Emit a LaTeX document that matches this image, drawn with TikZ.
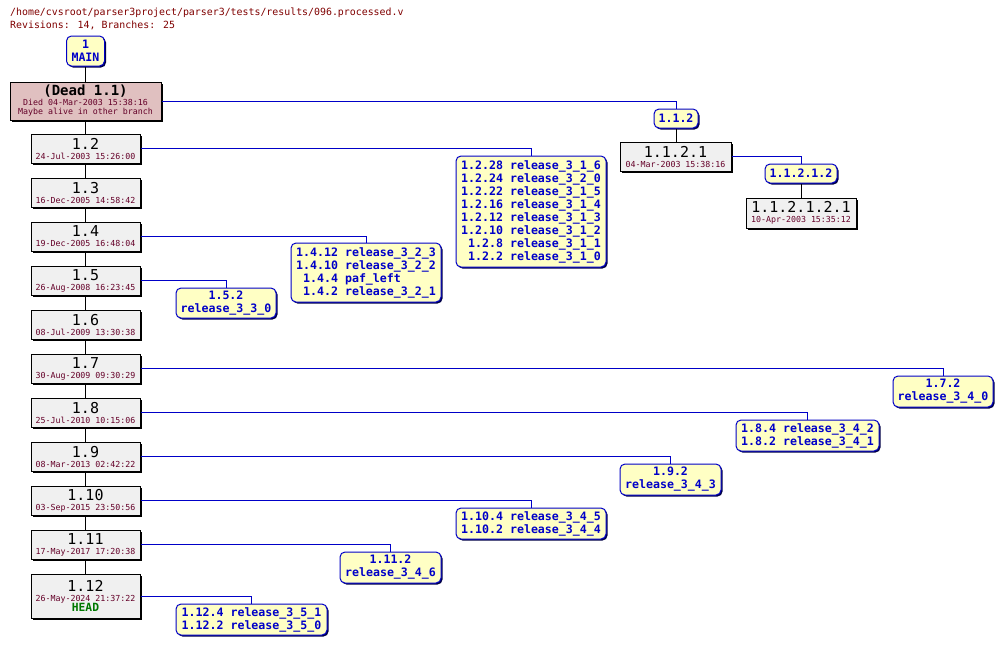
\documentclass[tikz,border=0pt]{standalone}
\usepackage{fontspec}
\setmainfont{DejaVu Sans Mono}
\usetikzlibrary{shadows}
\definecolor{hdr}{RGB}{128,0,0}
\definecolor{datecol}{RGB}{100,0,40}
\definecolor{brblue}{RGB}{0,0,200}
\definecolor{brfill}{RGB}{255,255,196}
\definecolor{revfill}{RGB}{240,240,240}
\definecolor{deadfill}{RGB}{224,192,192}
\definecolor{headgreen}{RGB}{0,120,0}
\definecolor{shadowblue}{RGB}{0,0,70}
\newcommand{\revnum}[1]{{\fontsize{15}{15}\selectfont #1}}
\newcommand{\revdate}[1]{{\fontsize{8.3}{9}\selectfont\color{datecol}#1}}
\begin{document}
\begin{tikzpicture}[x=1pt,y=-1pt,
  revbox/.style={draw=black, fill=revfill, line width=1pt, inner sep=0pt,
    minimum width=109pt, minimum height=29pt, align=center,
    font=\fontsize{8.3}{10}\selectfont,
    drop shadow={shadow xshift=1.5pt, shadow yshift=-1.5pt, opacity=1, fill=black}},
  brbox/.style={draw=brblue, fill=brfill, line width=1pt, inner sep=0pt,
    rounded corners=5pt, text=brblue, align=center,
    font=\fontsize{11.6}{13}\selectfont\bfseries,
    drop shadow={shadow xshift=1.5pt, shadow yshift=-1.5pt, opacity=1, fill=shadowblue}},
  brlist/.style={brbox, align=left},
  trunk/.style={draw=black, line width=1pt},
  brline/.style={draw=brblue, line width=1pt}
]
\fill[white] (0,0) rectangle (1003,645);
\useasboundingbox (0,0) rectangle (1003,645);

\node[anchor=base west, text=hdr, font=\fontsize{9.9}{10}\selectfont, inner sep=0pt] (path) at (10,16) {/home/cvsroot/parser3project/parser3/tests/results/096.processed.v};
\node[anchor=base west, text=hdr, font=\fontsize{9.9}{10}\selectfont, inner sep=0pt] (stats) at (10,28) {Revisions: 14, Branches: 25};

% main branch
\node[brbox, minimum width=38pt, minimum height=30pt] (main) at (85.5,51) {1\\MAIN};
\node[draw=black, fill=deadfill, line width=1pt, inner sep=0pt, minimum width=151pt, minimum height=38pt, align=center,
  font=\fontsize{8.3}{9.5}\selectfont,
  drop shadow={shadow xshift=1.5pt, shadow yshift=-1.5pt, opacity=1, fill=black}] (dead) at (85.5,101)
  {{\fontsize{14}{13}\selectfont\bfseries (Dead 1.1)}\\\textcolor{datecol}{Died 04-Mar-2003 15:38:16}\\\textcolor{datecol}{Maybe alive in other branch}};

\node[revbox] (r12) at (85.5,148.5) {\revnum{1.2}\\\revdate{24-Jul-2003 15:26:00}};
\node[revbox] (r13) at (85.5,192.5) {\revnum{1.3}\\\revdate{16-Dec-2005 14:58:42}};
\node[revbox] (r14) at (85.5,236.5) {\revnum{1.4}\\\revdate{19-Dec-2005 16:48:04}};
\node[revbox] (r15) at (85.5,280.5) {\revnum{1.5}\\\revdate{26-Aug-2008 16:23:45}};
\node[revbox] (r16) at (85.5,324.5) {\revnum{1.6}\\\revdate{08-Jul-2009 13:30:38}};
\node[revbox] (r17) at (85.5,368.5) {\revnum{1.7}\\\revdate{30-Aug-2009 09:30:29}};
\node[revbox] (r18) at (85.5,412.5) {\revnum{1.8}\\\revdate{25-Jul-2010 10:15:06}};
\node[revbox] (r19) at (85.5,456.5) {\revnum{1.9}\\\revdate{08-Mar-2013 02:42:22}};
\node[revbox] (r110) at (85.5,500.5) {\revnum{1.10}\\\revdate{03-Sep-2015 23:50:56}};
\node[revbox] (r111) at (85.5,544.5) {\revnum{1.11}\\\revdate{17-May-2017 17:20:38}};
\node[revbox, minimum height=44pt] (r112) at (85.5,596) {\revnum{1.12}\\\revdate{26-May-2024 21:37:22}\\{\fontsize{11.3}{11}\selectfont\bfseries\color{headgreen}HEAD}};

% side branch 1.1.2
\node[brbox, minimum width=44pt, minimum height=19pt] (b112) at (676,118.5) {1.1.2};
\node[revbox, minimum width=111pt] (r1121) at (675.5,156.5) {\revnum{1.1.2.1}\\\revdate{04-Mar-2003 15:38:16}};
\node[brbox, minimum width=72pt, minimum height=19pt] (b11212) at (801,173.5) {1.1.2.1.2};
\node[revbox, minimum width=110pt, minimum height=30pt] (r112121) at (801,213) {\revnum{1.1.2.1.2.1}\\\revdate{10-Apr-2003 15:35:12}};

% branch tag boxes
\node[brlist, minimum width=150pt, minimum height=111pt] (t12) at (531,211.5)
  {1.2.28 release\_3\_1\_6\\1.2.24 release\_3\_2\_0\\1.2.22 release\_3\_1\_5\\1.2.16 release\_3\_1\_4\\1.2.12 release\_3\_1\_3\\1.2.10 release\_3\_1\_2\\\phantom{0}1.2.8 release\_3\_1\_1\\\phantom{0}1.2.2 release\_3\_1\_0};
\node[brlist, minimum width=150pt, minimum height=59pt] (t14) at (366,272.5)
  {1.4.12 release\_3\_2\_3\\1.4.10 release\_3\_2\_2\\\phantom{0}1.4.4 paf\_left\\\phantom{0}1.4.2 release\_3\_2\_1};
\node[brbox, minimum width=100pt, minimum height=30pt] (t15) at (226,303) {1.5.2\\release\_3\_3\_0};
\node[brbox, minimum width=100pt, minimum height=31pt] (t17) at (943,391.5) {1.7.2\\release\_3\_4\_0};
\node[brlist, minimum width=143pt, minimum height=31pt] (t18) at (807.5,435.5) {1.8.4 release\_3\_4\_2\\1.8.2 release\_3\_4\_1};
\node[brbox, minimum width=101pt, minimum height=31pt] (t19) at (670.5,479.5) {1.9.2\\release\_3\_4\_3};
\node[brlist, minimum width=150pt, minimum height=31pt] (t110) at (531,523.5) {1.10.4 release\_3\_4\_5\\1.10.2 release\_3\_4\_4};
\node[brbox, minimum width=101pt, minimum height=31pt] (t111) at (390.5,567.5) {1.11.2\\release\_3\_4\_6};
\node[brlist, minimum width=151pt, minimum height=31pt] (t112) at (251.5,619.5) {1.12.4 release\_3\_5\_1\\1.12.2 release\_3\_5\_0};

% trunk
\draw[trunk] (main) -- (dead);
\draw[trunk] (dead) -- (r12);
\draw[trunk] (r12) -- (r13);
\draw[trunk] (r13) -- (r14);
\draw[trunk] (r14) -- (r15);
\draw[trunk] (r15) -- (r16);
\draw[trunk] (r16) -- (r17);
\draw[trunk] (r17) -- (r18);
\draw[trunk] (r18) -- (r19);
\draw[trunk] (r19) -- (r110);
\draw[trunk] (r110) -- (r111);
\draw[trunk] (r111) -- (r112);
\draw[trunk] (b112.south) -- (b112.south |- r1121.north);
\draw[trunk] (b11212.south) -- (b11212.south |- r112121.north);

% branch connectors
\draw[brline] (dead.east) -| (b112.north);
\draw[brline] (r1121.east) -| (b11212.north);
\draw[brline] (r12.east) -| (t12.north);
\draw[brline] (r14.east) -| (t14.north);
\draw[brline] (r15.east) -| (t15.north);
\draw[brline] (r17.east) -| (t17.north);
\draw[brline] (r18.east) -| (t18.north);
\draw[brline] (r19.east) -| (t19.north);
\draw[brline] (r110.east) -| (t110.north);
\draw[brline] (r111.east) -| (t111.north);
\draw[brline] (r112.east) -| (t112.north);
\end{tikzpicture}
\end{document}
